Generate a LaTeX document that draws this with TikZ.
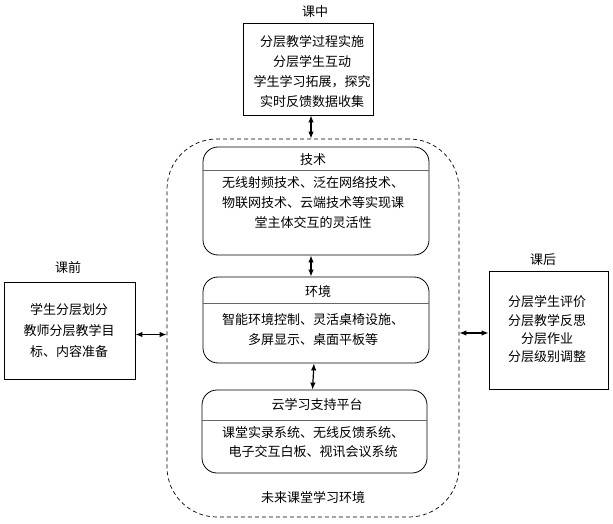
\documentclass[tikz,border=0pt]{standalone}
\usepackage{fontspec}
\setmainfont{Noto Sans CJK SC}
\usetikzlibrary{arrows.meta}
\begin{document}
\begin{tikzpicture}[x=1pt,y=-1pt,
  box/.style={draw=black,line width=0.8pt,rectangle,inner sep=0pt},
  rbox/.style={draw=black,line width=0.8pt,rectangle,rounded corners=15pt,inner sep=0pt},
  cont/.style={draw=black,line width=0.7pt,dash pattern=on 4pt off 3pt,rectangle,rounded corners=50pt,inner sep=0pt},
  txt/.style={align=center,inner sep=0pt,font=\fontsize{13}{20}\selectfont},
  lab/.style={inner sep=0pt,font=\fontsize{13}{15}\selectfont},
  sep/.style={draw=black!60,line width=1pt},
  biarrow/.style={line width=1.2pt,{Latex[length=7pt,width=5.5pt]}-{Latex[length=7pt,width=5.5pt]}}
]
\useasboundingbox (0,0) rectangle (613,524);
% boxes
\node[box,minimum width=130pt,minimum height=92pt] (top) at (308,69) {};
\node[cont,minimum width=292pt,minimum height=378pt] (cont) at (313,328) {};
\node[rbox,minimum width=226pt,minimum height=108pt] (tech) at (316,201) {};
\node[rbox,minimum width=226pt,minimum height=86pt] (env) at (316,320) {};
\node[rbox,minimum width=225pt,minimum height=83pt] (cloud) at (314.5,431.5) {};
\node[box,minimum width=131pt,minimum height=97pt] (left) at (69.5,330.5) {};
\node[box,minimum width=119pt,minimum height=118pt] (right) at (548.5,330) {};
% separators
\coordinate (s1) at (0,170);
\coordinate (s2) at (0,303);
\coordinate (s3) at (0,420);
\draw[sep] (tech.west |- s1) -- (tech.east |- s1);
\draw[sep] (env.west |- s2) -- (env.east |- s2);
\draw[sep] (cloud.west |- s3) -- (cloud.east |- s3);
% labels
\node[lab] (lmid) at (315,12) {课中};
\node[lab] (lpre) at (68,268) {课前};
\node[lab] (lpost) at (543,260) {课后};
\node[lab] (lenv) at (313,498) {未来课堂学习环境};
% texts
\node[txt] (ttop) at (312,72) {分层教学过程实施\\分层学生互动\\学生学习拓展，探究\\实时反馈数据收集};
\node[lab] (htech) at (313,160) {技术};
\node[txt] (ttech) at (313,202.5) {无线射频技术、泛在网络技术、\\物联网技术、云端技术等实现课\\堂主体交互的灵活性};
\node[lab] (henv) at (318,292) {环境};
\node[txt] (tenv) at (313,330) {智能环境控制、灵活桌椅设施、\\多屏显示、桌面平板等};
\node[lab] (hcloud) at (317,405) {云学习支持平台};
\node[txt,font=\fontsize{13}{19}\selectfont] (tcloud) at (313,442.5) {课堂实录系统、无线反馈系统、\\电子交互白板、视讯会议系统};
\node[txt,font=\fontsize{13}{21}\selectfont] (tleft) at (69,331) {学生分层划分\\教师分层教学目\\标、内容准备};
\node[txt,font=\fontsize{13}{18.3}\selectfont] (tright) at (547,329.5) {分层学生评价\\分层教学反思\\分层作业\\分层级别调整};
% arrows
\draw[biarrow] ([xshift=3pt]top.south) -- ([xshift=3pt]top.south |- cont.north);
\draw[biarrow] ([xshift=-5pt]tech.south) -- ([xshift=-5pt]env.north);
\draw[biarrow] ([xshift=-2pt]env.south) -- ([xshift=-2pt]cloud.north);
\draw[biarrow] ([yshift=-4pt]left.east) -- ([yshift=-4pt]left.east -| cont.west);
\draw[biarrow] ([yshift=-3pt]right.west) -- ([yshift=-3pt]right.west -| cont.east);
\end{tikzpicture}
\end{document}
